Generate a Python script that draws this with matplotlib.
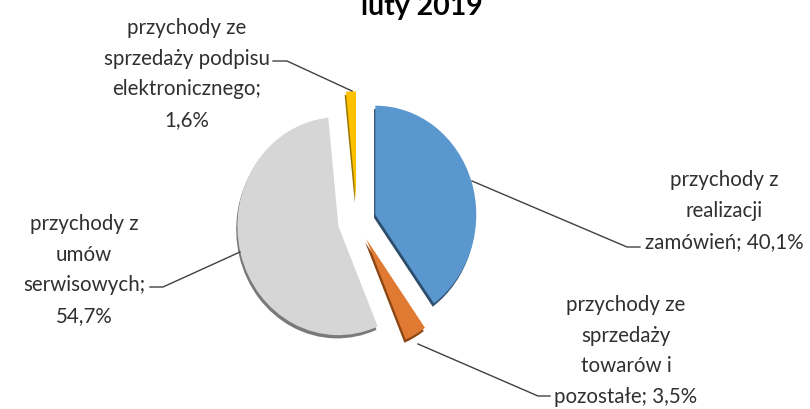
import matplotlib
matplotlib.use("Agg")
import matplotlib.pyplot as plt
from matplotlib.lines import Line2D

# ---- data ----
title = "luty 2019"
categories = [
    "przychody z\nrealizacji\nzamówień",
    "przychody ze\nsprzedaży\ntowarów i\npozostałe",
    "przychody z\numów\nserwisowych",
    "przychody ze\nsprzedaży podpisu\nelektronicznego",
]
values = [40.1, 3.5, 54.7, 1.6]
separators = ["; ", "; ", ";\n", ";\n"]
colors = ["#5b97cf", "#e07a32", "#d6d6d6", "#fcc100"]
shadow_colors = ["#2d4d6c", "#8c4612", "#7a7a7a", "#9a7400"]
explode = [0.19, 0.19, 0.19, 0.19]

W, H = 810, 410
fig = plt.figure(figsize=(W / 100, H / 100), dpi=100)
fig.patch.set_facecolor("white")

def fx(px):
    return px / W

def fy(py):
    return 1 - py / H

# pie axes (slightly elliptical as in the reference)
cx, cy, rx, ry = 357, 222, 101, 109
ax = fig.add_axes([fx(cx - 1.5 * rx), fy(cy + 1.5 * ry), 3 * rx / W, 3 * ry / H])
# shadow layer
ax.pie(values, explode=explode, colors=shadow_colors, startangle=90,
       counterclock=False, center=(-0.012, -0.03),
       wedgeprops=dict(linewidth=0))
ax.pie(values, explode=explode, colors=colors, startangle=90,
       counterclock=False, wedgeprops=dict(linewidth=0))
ax.set_aspect("auto")
ax.set_xlim(-1.5, 1.5)
ax.set_ylim(-1.5, 1.5)
ax.axis("off")

# title (cut off at top as in the reference)
fig.text(fx(422), fy(15), title, ha="center", va="baseline",
         fontsize=20.5, fontweight="bold", family="Lato", color="#000000")

# labels
label_pos = [(724, 211), (626, 351), (84, 270), (187, 74)]
for cat, val, sep, (lx, ly) in zip(categories, values, separators, label_pos):
    txt = f"{cat}{sep}{val:.1f}%".replace(".", ",")
    fig.text(fx(lx), fy(ly), txt, ha="center", va="center",
             multialignment="center", fontsize=14.8, family="Lato",
             color="#303030", linespacing=1.68)

# leader lines
leaders = [
    [(472, 182), (627, 248), (640, 248)],
    [(418, 345), (538, 397), (550, 397)],
    [(240, 253), (163, 288), (150, 288)],
    [(352, 92), (287, 62), (273, 62)],
]
for pts in leaders:
    xs = [fx(p[0]) for p in pts]
    ys = [fy(p[1]) for p in pts]
    fig.add_artist(Line2D(xs, ys, transform=fig.transFigure,
                          color="#404040", linewidth=1.0))

fig.savefig("out.png", dpi=100, facecolor="white")
